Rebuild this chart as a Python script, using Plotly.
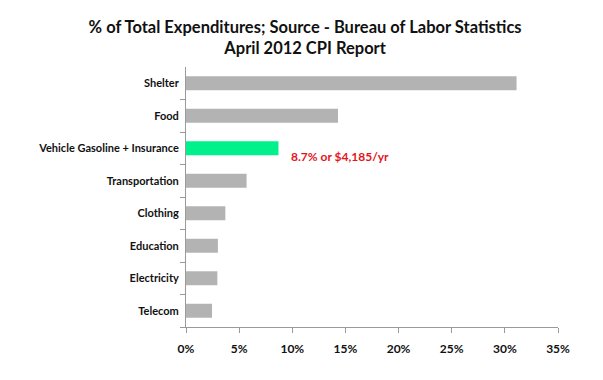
import plotly.graph_objects as go

categories = ["Shelter", "Food", "Vehicle Gasoline + Insurance", "Transportation",
              "Clothing", "Education", "Electricity", "Telecom"]
values = [31.1, 14.3, 8.7, 5.7, 3.7, 3.0, 2.95, 2.45]
highlight = "Vehicle Gasoline + Insurance"
annotation_text = "8.7% or $4,185/yr"
tick_vals = [0, 5, 10, 15, 20, 25, 30, 35]
tick_text = ["0%", "5%", "10%", "15%", "20%", "25%", "30%", "35%"]

GREY = "#b3b3b3"
GREEN = "#00f08c"
colors = [GREEN if c == highlight else GREY for c in categories]
FONT = "Lato, 'Liberation Sans', sans-serif"

fig = go.Figure(go.Bar(
    x=values, y=categories, orientation="h",
    marker=dict(color=colors, line=dict(width=0)),
    width=0.43,
))

hv = values[categories.index(highlight)]
fig.add_annotation(x=hv, y=highlight, text="<b>" + annotation_text + "</b>",
                   showarrow=False, xanchor="left", yanchor="middle",
                   xshift=11, yshift=-8,
                   font=dict(family=FONT, size=12, color="#e3151b"))

fig.update_layout(
    width=603, height=380,
    paper_bgcolor="white", plot_bgcolor="white",
    margin=dict(l=186, r=45, t=67, b=53),
    showlegend=False,
    title=dict(text="<b>% of Total Expenditures; Source - Bureau of Labor Statistics<br>April 2012 CPI Report</b>",
               x=0.506, xanchor="center", xref="container",
               y=1 - 33 / 380, yanchor="middle", yref="container",
               automargin=False,
               font=dict(family=FONT, size=16.5, color="#111111")),
    font=dict(family=FONT, color="#111111"),
)
fig.update_xaxes(range=[0, 35], tickvals=tick_vals, ticktext=["<b>" + t + "</b>" for t in tick_text],
                 showgrid=False, zeroline=False, showline=True, linecolor="#9a9a9a", linewidth=1,
                 ticks="outside", ticklen=5, tickcolor="#9a9a9a", automargin=False,
                 tickfont=dict(family=FONT, size=12, color="#111111"),
                 ticklabelstandoff=6)
fig.update_yaxes(categoryorder="array", categoryarray=categories[::-1],
                 tickvals=categories, ticktext=["<b>" + c + "</b>" for c in categories],
                 showgrid=False, showline=True, linecolor="#9a9a9a", linewidth=1,
                 ticks="outside", ticklen=5, tickcolor="#9a9a9a", tickson="boundaries",
                 automargin=False,
                 tickfont=dict(family=FONT, size=11, color="#111111"),
                 ticklabelstandoff=4)

fig.write_html("out.html", config={"displayModeBar": False},
               post_script="document.body.style.margin='0';")
